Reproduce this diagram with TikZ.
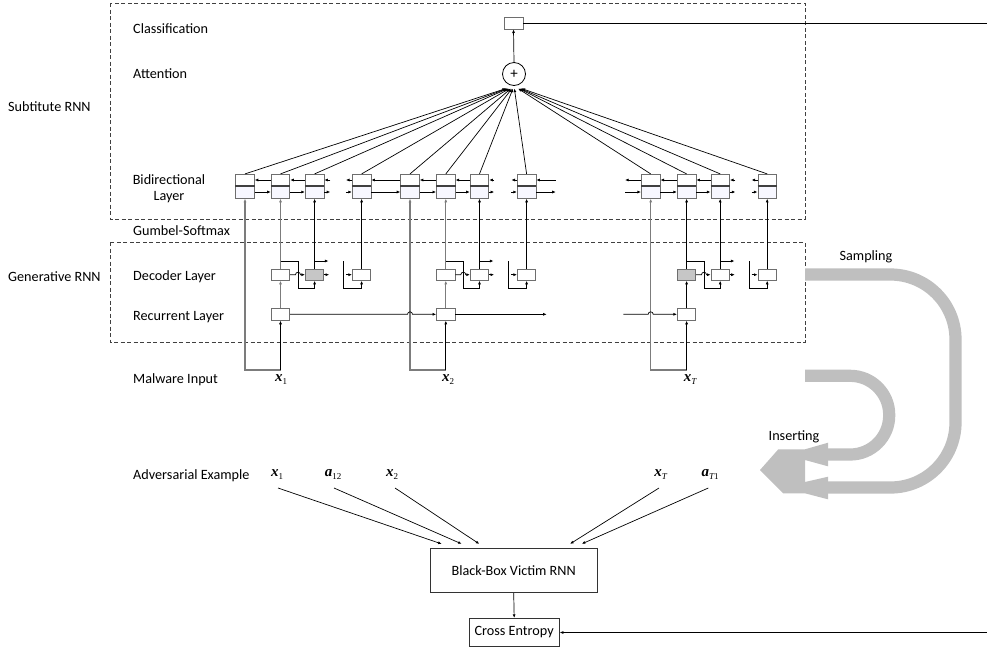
\documentclass[tikz,border=0pt]{standalone}
\usepackage{fontspec}
\setmainfont{Carlito}
\newfontfamily\tnr{Liberation Serif}
\usetikzlibrary{arrows.meta,calc}
\definecolor{bandgray}{HTML}{BFBFBF}
\definecolor{boxgray}{HTML}{6E6E6E}
\definecolor{linegray}{HTML}{7C7C7C}
\newcommand\mvar[2]{{\tnr\fontsize{15}{15}\selectfont\bfseries\itshape #1}{\tnr\fontsize{9}{9}\selectfont\raisebox{-3pt}{#2}}}
\begin{document}
\begin{tikzpicture}[x=1pt,y=-1pt,font=\fontsize{14.2}{17}\selectfont,
  tip/.style={-{Latex[length=3.6pt,width=3pt]}},
  ln/.style={line width=0.7pt,black},
  gln/.style={line width=1.25pt,linegray},
  arr/.style={ln,tip},
  garr/.style={gln,tip},
  cellT/.style={draw=boxgray,line width=0.8pt,fill=white,minimum width=18.6pt,minimum height=11.4pt,inner sep=0pt},
  cellB/.style={draw=boxgray,line width=0.8pt,fill=blue!3,minimum width=18.6pt,minimum height=12.6pt,inner sep=0pt},
  sep/.style={line width=1.4pt,black!75},
  unit/.style={draw=boxgray,line width=0.8pt,fill=white,minimum width=18.4pt,minimum height=11.3pt,inner sep=0pt},
  gunit/.style={unit,fill=gray!45},
  lab/.style={anchor=base west,inner sep=0pt},
  clab/.style={anchor=base,inner sep=0pt},
  frame/.style={dash pattern=on 4pt off 2.5pt,line width=0.8pt,black!75},
  band/.style={line width=12.2pt,bandgray},
]
\useasboundingbox (0,0) rectangle (987,649);

% frames
\draw[frame] (110,3) rectangle (805,219);
\draw[frame] (110,242) rectangle (805,342);

% labels
\node[lab] (tcls) at (133,33) {Classification};
\node[lab] (tatt) at (133,78) {Attention};
\node[clab] (tbi1) at (169,184) {Bidirectional};
\node[clab] (tbi2) at (169,200.5) {Layer};
\node[lab] (tgs) at (133,235) {Gumbel-Softmax};
\node[lab] (tsub) at (8,111) {Subtitute RNN};
\node[lab] (tdec) at (133,280) {Decoder Layer};
\node[lab] (trec) at (133,320) {Recurrent Layer};
\node[lab] (tgen) at (8,281) {Generative RNN};
\node[lab] (tmal) at (133,383) {Malware Input};
\node[lab] (tadv) at (133,479) {Adversarial Example};
\node[clab] (tsam) at (866,260.5) {Sampling};
\node[clab] (tins) at (794,440.5) {Inserting};

% classification and attention
\node[draw=boxgray,line width=0.8pt,fill=white,minimum width=19pt,minimum height=12pt,inner sep=0pt] (cls) at (513.5,23) {};
\node[circle,draw=black,line width=0.8pt,fill=white,minimum size=23pt,inner sep=0pt] (att) at (514,74) {\fontsize{15}{15}\selectfont +};
\draw[arr] (att.north) -- (cls.south);
\coordinate (rtop) at (987,23);
\draw[ln] (cls.east) -- (rtop);

% bidirectional cells
\foreach \i/\x in {1/245,2/280.5,3/314.6,4/361.6,5/410,6/445.8,7/479.5,8/526.6,9/650.7,10/686.6,11/720.2,12/767.2}{
  \node[cellT] (cT\i) at (\x,180) {};
  \node[cellB] (cB\i) at (\x,192) {};
  \draw[sep] (cT\i.south west) -- (cT\i.south east);
  \draw[arr] (cT\i.north) -- ($(att.south)!0.03!(cT\i.north)$);
}

% bidirectional horizontal links
\foreach \a/\b in {1/2,2/3,4/5,5/6,6/7,9/10,10/11}{
  \draw[arr] (cT\b.west) -- (cT\a.east);
  \draw[arr] (cB\a.east) -- (cB\b.west);
}
% stubs
\draw[arr] ([xshift=6pt]cT3.east) -- (cT3.east);
\draw[arr] (cB3.east) -- ([xshift=6pt]cB3.east);
\draw[arr] (cT4.west) -- ([xshift=-6pt]cT4.west);
\draw[arr] ([xshift=-6pt]cB4.west) -- (cB4.west);
\draw[arr] ([xshift=5pt]cT7.east) -- (cT7.east);
\draw[arr] (cB7.east) -- ([xshift=5pt]cB7.east);
\draw[arr] (cT8.west) -- ([xshift=-5.5pt]cT8.west);
\draw[arr] ([xshift=-5.5pt]cB8.west) -- (cB8.west);
\draw[arr] ([xshift=19.5pt]cT8.east) -- (cT8.east);
\draw[arr] (cB8.east) -- ([xshift=19.5pt]cB8.east);
\draw[arr] (cT9.west) -- ([xshift=-16pt]cT9.west);
\draw[arr] ([xshift=-16pt]cB9.west) -- (cB9.west);
\draw[arr] ([xshift=5.5pt]cT11.east) -- (cT11.east);
\draw[arr] (cB11.east) -- ([xshift=5.5pt]cB11.east);
\draw[arr] (cT12.west) -- ([xshift=-6pt]cT12.west);
\draw[arr] ([xshift=-6pt]cB12.west) -- (cB12.west);

% decoder units
\node[unit] (d1) at (280.5,274.7) {};
\node[gunit] (d2) at (314.6,274.7) {};
\node[unit] (d3) at (361.6,274.7) {};
\node[unit] (d4) at (445.8,274.7) {};
\node[unit] (d5) at (479.5,274.7) {};
\node[unit] (d6) at (526.6,274.7) {};
\node[gunit] (d7) at (686.6,274.7) {};
\node[unit] (d8) at (720.2,274.7) {};
\node[unit] (d9) at (767.2,274.7) {};

% recurrent units
\node[unit,minimum height=12pt] (r1) at (280.5,314.3) {};
\node[unit,minimum height=12pt] (r2) at (445.8,314.3) {};
\node[unit,minimum height=12pt] (r3) at (686.6,314.3) {};

% malware inputs
\node[clab] (in1) at (281,381.7) {\mvar{x}{1}};
\node[clab] (in2) at (448,381.7) {\mvar{x}{2}};
\node[clab] (in3) at (690,381.7) {\mvar{x}{\itshape T}};
\coordinate (j1) at (280.5,370);
\coordinate (k1) at (245,370);
\coordinate (j2) at (445.8,370);
\coordinate (k2) at (410,370);
\coordinate (j3) at (686.6,370);
\coordinate (k3) at (650.7,370);

% group 1
\draw[garr] (j1) -- (k1) -- (cB1.south);
\draw[arr] (j1) -- (r1.south);
\draw[garr] (r1.north) -- (d1.south);
\draw[garr] (d1.north) -- (cB2.south);
\draw[arr] (280.5,261) -- (298,261) -- (298,288.3) -- (314.6,288.3) -- (d2.south);
\draw[arr] (d1.east) -- (295.5,274.7) arc[start angle=180,end angle=360,radius=2.5] -- (d2.west);
\draw[arr] (d2.north) -- (cB3.south);
\draw[arr] (314.6,261) -- (328.5,261);
\draw[arr] (d2.east) -- ([xshift=5pt]d2.east);
\draw[arr] (343.3,261) -- (343.3,288.3) -- (361.6,288.3) -- (d3.south);
\draw[arr] ([xshift=-6pt]d3.west) -- (d3.west);
\draw[arr] (d3.north) -- (cB4.south);

% group 2
\draw[garr] (j2) -- (k2) -- (cB5.south);
\draw[arr] (j2) -- (r2.south);
\draw[garr] (r2.north) -- (d4.south);
\draw[garr] (d4.north) -- (cB6.south);
\draw[arr] (445.8,261) -- (463.3,261) -- (463.3,288.3) -- (479.5,288.3) -- (d5.south);
\draw[arr] (d4.east) -- (460.8,274.7) arc[start angle=180,end angle=360,radius=2.5] -- (d5.west);
\draw[arr] (d5.north) -- (cB7.south);
\draw[arr] (479.5,261) -- (493.5,261);
\draw[arr] (d5.east) -- ([xshift=5pt]d5.east);
\draw[arr] (508.3,261) -- (508.3,288.3) -- (526.6,288.3) -- (d6.south);
\draw[arr] ([xshift=-6pt]d6.west) -- (d6.west);
\draw[arr] (d6.north) -- (cB8.south);

% group 3
\draw[garr] (j3) -- (k3) -- (cB9.south);
\draw[arr] (j3) -- (r3.south);
\draw[arr] (r3.north) -- (d7.south);
\draw[arr] (d7.north) -- (cB10.south);
\draw[arr] (686.6,261) -- (704,261) -- (704,288.3) -- (720.2,288.3) -- (d8.south);
\draw[arr] (d7.east) -- (701.5,274.7) arc[start angle=180,end angle=360,radius=2.5] -- (d8.west);
\draw[arr] (d8.north) -- (cB11.south);
\draw[arr] (720.2,261) -- (734.5,261);
\draw[arr] (d8.east) -- ([xshift=5pt]d8.east);
\draw[arr] (749,261) -- (749,288.3) -- (767.2,288.3) -- (d9.south);
\draw[arr] ([xshift=-6pt]d9.west) -- (d9.west);
\draw[arr] (d9.north) -- (cB12.south);

% recurrent links
\draw[arr] (r1.east) -- (407.5,314.3) arc[start angle=180,end angle=360,radius=2.5] -- (r2.west);
\coordinate (rend) at (546.7,314.3);
\draw[arr] (r2.east) -- (rend);
\coordinate (rstart) at (623.3,314.3);
\draw[arr] (rstart) -- (648.2,314.3) arc[start angle=180,end angle=360,radius=2.5] -- (r3.west);

% gray U-turn arrows
\draw[band,rounded corners=65pt] (805,274.5) -- (955.5,274.5) -- (955.5,487.5) -- (828,487.5);
\draw[band,rounded corners=39pt] (805,375.8) -- (889.2,375.8) -- (889.2,454.5) -- (828,454.5);
\fill[bandgray] (828,442.7) -- (805,449.3) -- (778.3,449.3) -- (760,470) -- (783.3,493.3) -- (805,493.3) -- (828,499.3) -- (828,476.7) -- (805,482) -- (805,460) -- (828,466.3) -- cycle;

% adversarial example
\node[clab] (ax1) at (277,476.7) {\mvar{x}{1}};
\node[clab] (aa12) at (333,476.7) {\mvar{a}{12}};
\node[clab] (ax2) at (392,476.7) {\mvar{x}{2}};
\node[clab] (axT) at (660.5,476.7) {\mvar{x}{\itshape T}};
\node[clab] (aaT) at (710,476.7) {\mvar{a}{{\itshape T}1}};

\node[draw=black!80,line width=0.8pt,fill=white,minimum width=167pt,minimum height=44.4pt,inner sep=0pt] (vic) at (513.7,570.5) {Black-Box Victim RNN};
\node[draw=black!80,line width=0.8pt,fill=white,minimum width=90.3pt,minimum height=28.4pt,inner sep=0pt] (ce) at (514.2,632.5) {Cross Entropy};
\draw[arr] (vic.south) -- (ce.north);
\coordinate (rbot) at (987,632.5);
\draw[arr] (rbot) -- (ce.east);

\coordinate (s1) at (278,488);
\coordinate (s2) at (334,488);
\coordinate (s3) at (395,488);
\coordinate (s4) at (659,488);
\coordinate (s5) at (708.3,488);
\draw[arr] (s1) -- ([xshift=-72pt,yshift=4pt]vic.north);
\draw[arr] (s2) -- ([xshift=-52pt,yshift=4pt]vic.north);
\draw[arr] (s3) -- ([xshift=-34.4pt,yshift=4pt]vic.north);
\draw[arr] (s4) -- ([xshift=56.3pt,yshift=4pt]vic.north);
\draw[arr] (s5) -- ([xshift=68pt,yshift=4pt]vic.north);
\end{tikzpicture}
\end{document}
